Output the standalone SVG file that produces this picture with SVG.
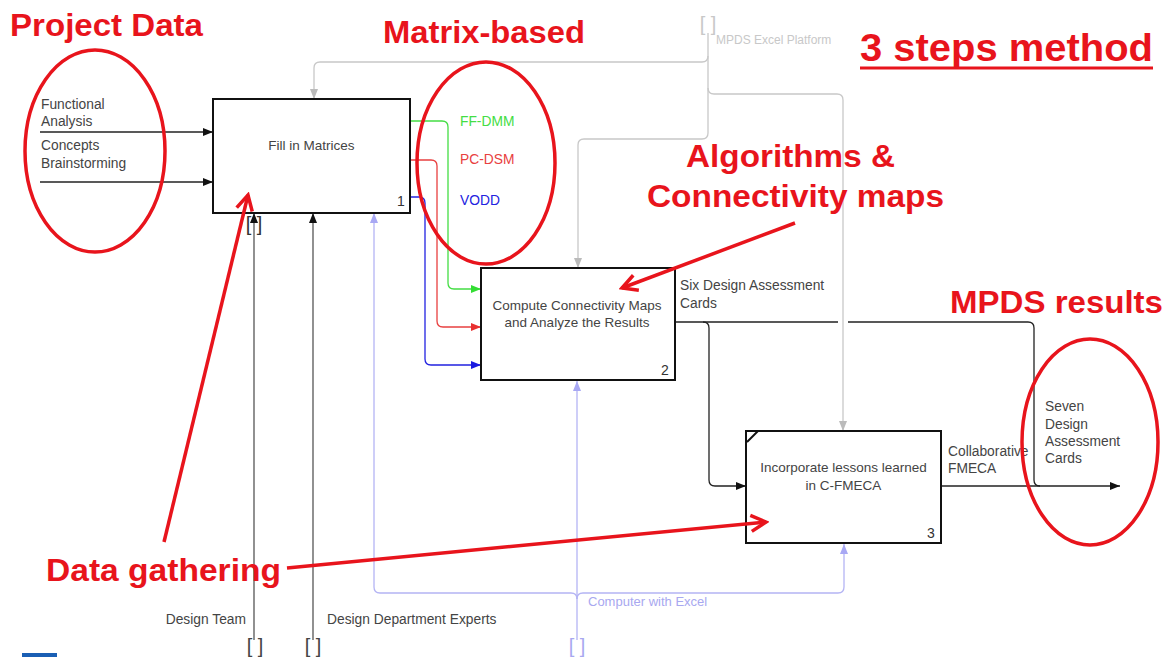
<svg xmlns="http://www.w3.org/2000/svg" width="1171" height="657" viewBox="0 0 1171 657">
<defs>
<style>
.box{fill:#fff;stroke:#111;stroke-width:2}
.bt{font-family:"Liberation Sans",Arial,sans-serif;font-size:13.5px;fill:#444;text-anchor:middle}
.num{font-family:"Liberation Sans",Arial,sans-serif;font-size:14px;fill:#333}
.lab{font-family:"Liberation Sans",Arial,sans-serif;font-size:13.8px;fill:#444}
.ann{font-family:"Liberation Sans",Arial,sans-serif;font-weight:bold;font-size:32px;fill:#e8141c}
.red{fill:none;stroke:#e8141c;stroke-width:3.5}
.blk{fill:none;stroke:#222;stroke-width:1.3}
.gry{fill:none;stroke:#c8c8c8;stroke-width:1.3}
.lbl{fill:none;stroke:#b4b4f4;stroke-width:1.3}
.brk{font-family:"Liberation Sans",Arial,sans-serif;font-size:20px}
</style>
<marker id="ab" markerUnits="userSpaceOnUse" markerWidth="12" markerHeight="10" refX="10" refY="5" orient="auto"><path d="M0,1 L10,5 L0,9 Z" fill="#111"/></marker>
<marker id="ag" markerUnits="userSpaceOnUse" markerWidth="12" markerHeight="10" refX="10" refY="5" orient="auto"><path d="M0,1 L10,5 L0,9 Z" fill="#bbb"/></marker>
<marker id="al" markerUnits="userSpaceOnUse" markerWidth="12" markerHeight="10" refX="10" refY="5" orient="auto"><path d="M0,1 L10,5 L0,9 Z" fill="#a8a8f4"/></marker>
<marker id="agr" markerUnits="userSpaceOnUse" markerWidth="12" markerHeight="10" refX="10" refY="5" orient="auto"><path d="M0,1 L10,5 L0,9 Z" fill="#33dd33"/></marker>
<marker id="ard" markerUnits="userSpaceOnUse" markerWidth="12" markerHeight="10" refX="10" refY="5" orient="auto"><path d="M0,1 L10,5 L0,9 Z" fill="#e83030"/></marker>
<marker id="abl" markerUnits="userSpaceOnUse" markerWidth="12" markerHeight="10" refX="10" refY="5" orient="auto"><path d="M0,1 L10,5 L0,9 Z" fill="#1a1ae0"/></marker>
<marker id="ar" markerUnits="userSpaceOnUse" markerWidth="20" markerHeight="20" refX="17" refY="10" orient="auto"><path d="M2,2 L17,10 L2,18" fill="none" stroke="#e8141c" stroke-width="3.5"/></marker>
</defs>
<rect width="1171" height="657" fill="#fff"/>

<g id="connectors">
<path class="blk" d="M40,132 H213" marker-end="url(#ab)"/>
<path class="blk" d="M40,182 H213" marker-end="url(#ab)"/>
<path class="gry" d="M708,33 V133 Q708,139 702,139 H584 Q578,139 578,145 V268" marker-end="url(#ag)"/>
<path class="gry" d="M708,56 Q708,62 702,62 H320 Q314,62 314,68 V99" marker-end="url(#ag)"/>
<path class="gry" d="M708,88 Q708,94 714,94 H837 Q843,94 843,100 V431" marker-end="url(#ag)"/>
<path fill="none" stroke="#44dd44" stroke-width="1.3" d="M410,121 H442 Q448,121 448,127 V283 Q448,289 454,289 H481" marker-end="url(#agr)"/>
<path fill="none" stroke="#e84040" stroke-width="1.3" d="M410,160 H431 Q437,160 437,166 V321 Q437,327 443,327 H481" marker-end="url(#ard)"/>
<path fill="none" stroke="#2222e0" stroke-width="1.3" d="M410,197 H419 Q425,197 425,203 V359 Q425,365 431,365 H481" marker-end="url(#abl)"/>
<path class="blk" d="M675,322 H838 M848,322 H1028 Q1034,322 1034,328 V480 Q1034,486 1040,486"/>
<path class="blk" d="M703,322 Q709,322 709,328 V480 Q709,486 715,486 H746" marker-end="url(#ab)"/>
<path class="blk" d="M941,486 H1120" marker-end="url(#ab)"/>
<path fill="none" stroke="#555" stroke-width="1.3" d="M254,640 V213" marker-end="url(#ab)"/>
<path fill="none" stroke="#555" stroke-width="1.3" d="M313,640 V213" marker-end="url(#ab)"/>
<path class="lbl" d="M577,640 V381" marker-end="url(#al)"/>
<path class="lbl" d="M577,599 Q577,593 571,593 H380 Q374,593 374,587 V213" marker-end="url(#al)"/>
<path class="lbl" d="M577,599 Q577,593 583,593 H838 Q844,593 844,587 V544" marker-end="url(#al)"/>
</g>

<g id="box1">
<rect class="box" x="213" y="99" width="197" height="114"/>
<text class="bt" x="311.5" y="150">Fill in Matrices</text>
<text class="num" x="397" y="206">1</text>
</g>
<g id="box2">
<rect class="box" x="481" y="268" width="194" height="112"/>
<text class="bt" x="577" y="310">Compute Connectivity Maps</text>
<text class="bt" x="577" y="327">and Analyze the Results</text>
<text class="num" x="661" y="375">2</text>
</g>
<g id="box3">
<rect class="box" x="746" y="431" width="195" height="112"/>
<path d="M747,442 L758,431" stroke="#111" stroke-width="2"/>
<text class="bt" x="843.5" y="472">Incorporate lessons learned</text>
<text class="bt" x="843.5" y="490">in C-FMECA</text>
<text class="num" x="927" y="538">3</text>
</g>

<g id="labels">
<text class="lab" x="41" y="109">Functional</text>
<text class="lab" x="41" y="126">Analysis</text>
<text class="lab" x="41" y="150">Concepts</text>
<text class="lab" x="41" y="168">Brainstorming</text>
<text class="lab" x="460" y="126" style="fill:#44dd44">FF-DMM</text>
<text class="lab" x="460" y="164" style="fill:#e84040">PC-DSM</text>
<text class="lab" x="460" y="205" style="fill:#2222e0">VODD</text>
<text class="lab" x="680" y="290">Six Design Assessment</text>
<text class="lab" x="680" y="308">Cards</text>
<text class="lab" x="948" y="456">Collaborative</text>
<text class="lab" x="948" y="473">FMECA</text>
<text class="lab" x="1045" y="411">Seven</text>
<text class="lab" x="1045" y="429">Design</text>
<text class="lab" x="1045" y="446">Assessment</text>
<text class="lab" x="1045" y="463">Cards</text>
<text class="lab" x="246" y="624" text-anchor="end">Design Team</text>
<text class="lab" x="327" y="624">Design Department Experts</text>
<text class="lab" x="588" y="606" style="fill:#a8a8f0;font-size:13px">Computer with Excel</text>
<text class="lab" x="716" y="44" style="fill:#c8c8c8;font-size:12px">MPDS Excel Platform</text>
<text class="brk" x="254" y="231" text-anchor="middle" fill="#333">[ ]</text>
<text class="brk" x="255" y="653" text-anchor="middle" fill="#444">[ ]</text>
<text class="brk" x="313" y="653" text-anchor="middle" fill="#444">[ ]</text>
<text class="brk" x="577" y="653" text-anchor="middle" fill="#a8a8f0">[ ]</text>
<text class="brk" x="708" y="31" text-anchor="middle" fill="#c8c8c8">[ ]</text>
</g>

<g id="annotations">
<text class="ann" x="10" y="36" textLength="193" lengthAdjust="spacingAndGlyphs">Project Data</text>
<ellipse class="red" cx="95" cy="151" rx="70" ry="101"/>
<text class="ann" x="383" y="43" textLength="202" lengthAdjust="spacingAndGlyphs">Matrix-based</text>
<ellipse class="red" cx="486" cy="163" rx="69" ry="101"/>
<text class="ann" x="860" y="61" style="font-size:38px" textLength="293" lengthAdjust="spacingAndGlyphs">3 steps method</text>
<line x1="860" y1="68" x2="1153" y2="68" stroke="#e8141c" stroke-width="3"/>
<text class="ann" x="686" y="167" textLength="209" lengthAdjust="spacingAndGlyphs">Algorithms &amp;</text>
<text class="ann" x="647" y="207" textLength="297" lengthAdjust="spacingAndGlyphs">Connectivity maps</text>
<path class="red" d="M795,223 L622,288" marker-end="url(#ar)"/>
<text class="ann" x="950" y="313" textLength="213" lengthAdjust="spacingAndGlyphs">MPDS results</text>
<ellipse class="red" cx="1090" cy="442" rx="68" ry="103"/>
<text class="ann" x="46" y="581" textLength="235" lengthAdjust="spacingAndGlyphs">Data gathering</text>
<path class="red" d="M164,542 L248,195" marker-end="url(#ar)"/>
<path class="red" d="M287,568 L766,522" marker-end="url(#ar)"/>
</g>
<rect x="22" y="653" width="35" height="4" fill="#1a5fb4"/>
</svg>
